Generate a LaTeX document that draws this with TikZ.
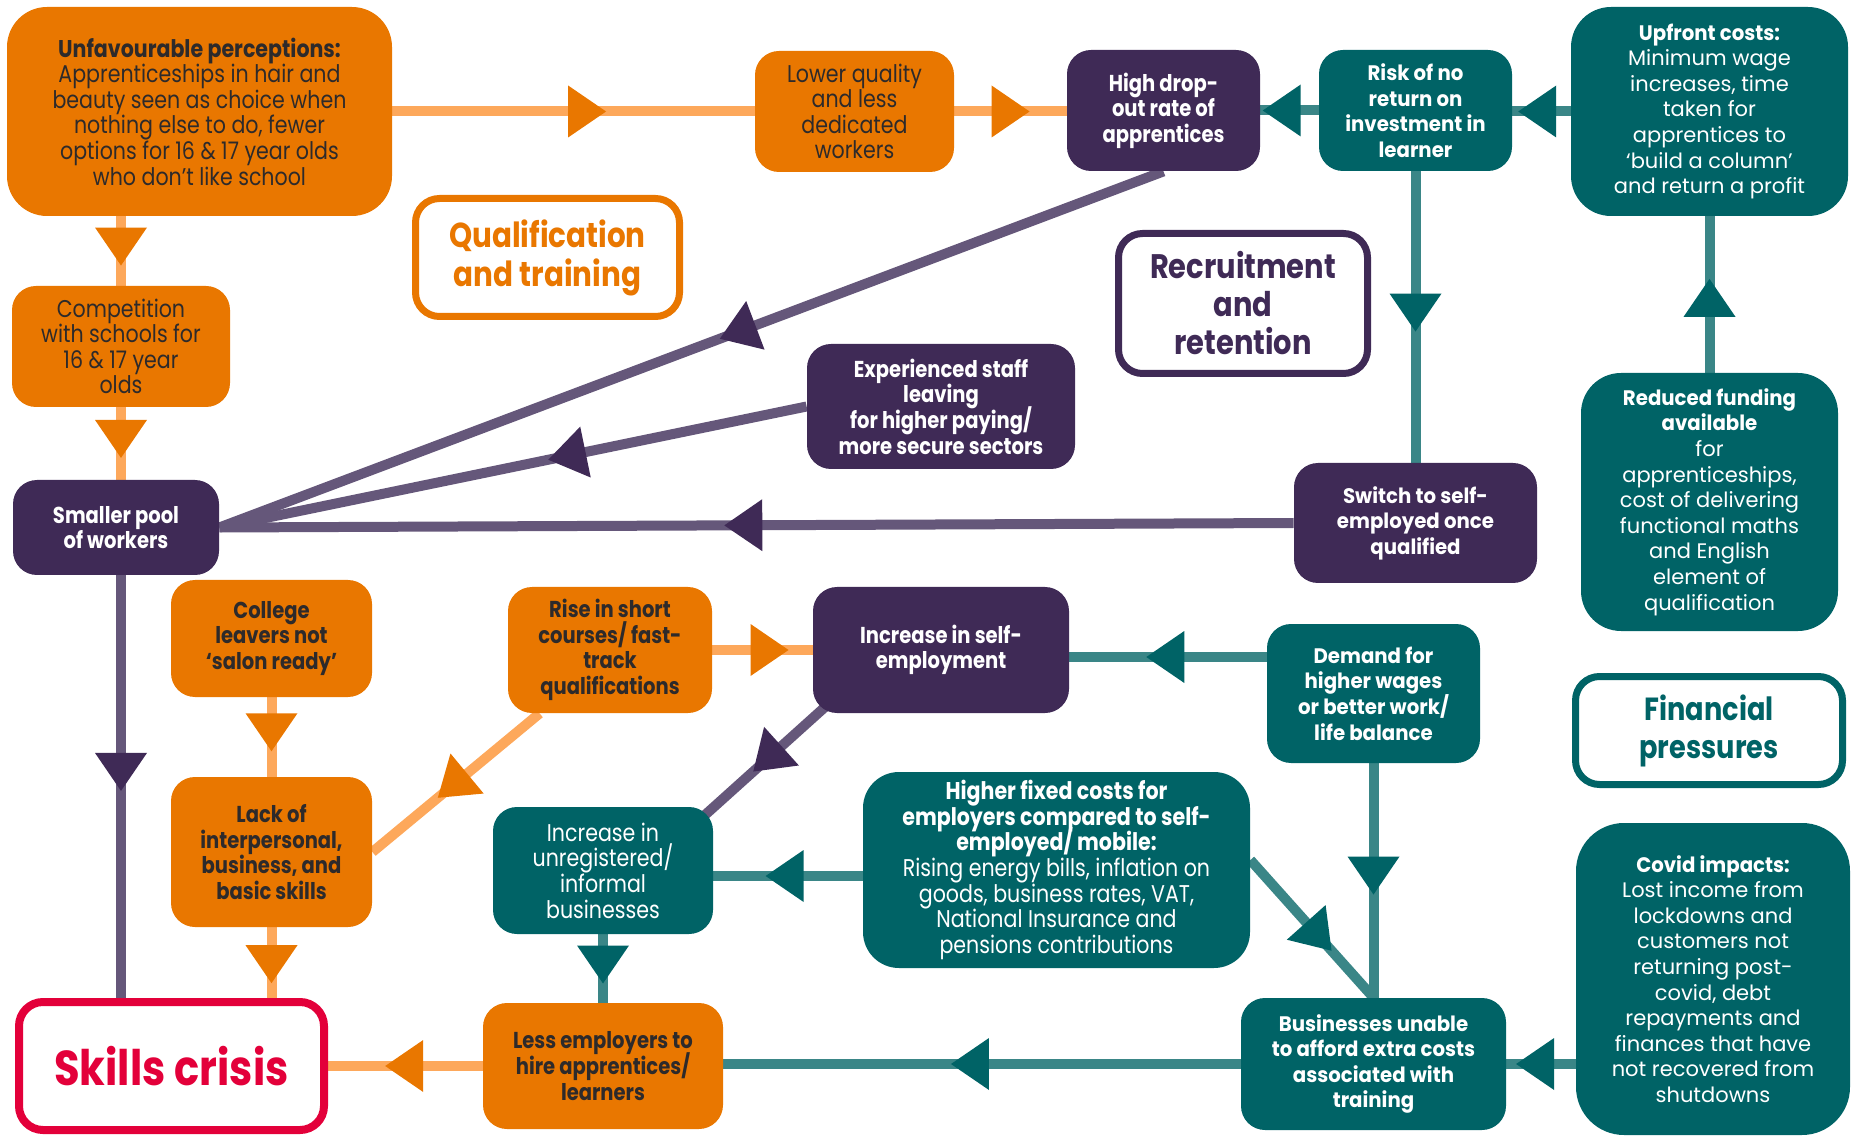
\documentclass[tikz,border=0pt]{standalone}
\usepackage{fontspec}
\setmainfont{Poppins}
\newfontfamily\cond{Poppins}[FakeStretch=0.85]
\newfontfamily\wideb{Poppins}[FakeStretch=0.94]
\newcommand\tightlines{\lineskiplimit=-100pt\relax}
\usetikzlibrary{decorations.markings,calc,backgrounds}
\definecolor{obox}{HTML}{E97700}
\definecolor{oline}{HTML}{FDA85B}
\definecolor{pbox}{HTML}{3F2A56}
\definecolor{pline}{HTML}{65577A}
\definecolor{tbox}{HTML}{006366}
\definecolor{tline}{HTML}{3A8687}
\definecolor{dtext}{HTML}{2D2A2B}
\definecolor{crisis}{HTML}{E3003A}
\tikzset{
  cardbox/.style={rounded corners=12pt, inner sep=0pt, align=center},
  ocard/.style={cardbox, fill=obox, text=dtext},
  pcard/.style={cardbox, fill=pbox, text=white},
  tcard/.style={cardbox, fill=tbox, text=white},
  tagbox/.style={rounded corners=12pt, inner sep=0pt, align=center, fill=white, line width=3.5pt},
  fc/.style={font=\cond\fontsize{12.1}{12.8}\selectfont\tightlines},
  fcb/.style={font=\cond\bfseries\fontsize{11.5}{12.8}\selectfont\tightlines},
  fw/.style={font=\fontsize{10.5}{12.8}\selectfont\tightlines},
  fwb/.style={font=\wideb\bfseries\fontsize{10.5}{12.8}\selectfont\tightlines},
  linkarrow/.style n args={3}{line width=5pt, draw=#1, postaction={decorate, decoration={markings, mark=at position #3 with {\fill[#2] (0pt,0pt) -- (-19pt,13pt) -- (-19pt,-13pt) -- cycle;}}}},
  olink/.style={linkarrow={oline}{obox}{#1}},
  plink/.style={linkarrow={pline}{pbox}{#1}},
  tlink/.style={linkarrow={tline}{tbox}{#1}},
}
\begin{document}
\begin{tikzpicture}[x=0.5pt,y=-0.5pt]
\useasboundingbox (0,0) rectangle (1852,1138);
% orange
\node[ocard, rounded corners=20pt, minimum width=192.5pt, minimum height=104.5pt, fc] (unfav) at (199.5,111.5)
 {{\bfseries Unfavourable perceptions:}\\Apprenticeships in hair and\\beauty seen as choice when\\nothing else to do, fewer\\options for 16 \& 17 year olds\\who don’t like school};
\node[ocard, minimum width=109pt, minimum height=60.5pt, fc] (comp) at (121,346.5)
 {Competition\\with schools for\\16 \& 17 year\\olds};
\node[ocard, minimum width=99.5pt, minimum height=60.5pt, fc] (lower) at (854.5,111.5)
 {Lower quality\\and less\\dedicated\\workers};
\node[ocard, minimum width=100.5pt, minimum height=58.5pt, fcb] (college) at (271.5,638.5)
 {College\\leavers not\\‘salon ready’};
\node[ocard, minimum width=102pt, minimum height=63pt, fcb] (rise) at (610,650)
 {Rise in short\\courses/ fast-\\track\\qualifications};
\node[ocard, minimum width=100.5pt, minimum height=75pt, fcb] (lack) at (271.5,852)
 {Lack of\\interpersonal,\\business, and\\basic skills};
\node[ocard, minimum width=120pt, minimum height=63pt, fcb] (less) at (603,1066)
 {Less employers to\\hire apprentices/\\learners};
% purple
\node[pcard, minimum width=96.5pt, minimum height=60.5pt, fcb] (high) at (1163.5,110.5)
 {High drop-\\out rate of\\apprentices};
\node[pcard, minimum width=134pt, minimum height=62.5pt, fcb] (exper) at (941,406.5)
 {Experienced staff\\leaving\\for higher paying/\\more secure sectors};
\node[pcard, minimum width=103pt, minimum height=47.5pt, fcb] (smaller) at (116,527.5)
 {Smaller pool\\of workers};
\node[pcard, minimum width=121.5pt, minimum height=60pt, fwb] (switch) at (1415.5,523)
 {Switch to self-\\employed once\\qualified};
\node[pcard, minimum width=128pt, minimum height=63pt, fcb] (incrself) at (941,650)
 {Increase in self-\\employment};
% teal
\node[tcard, minimum width=96.5pt, minimum height=60.5pt, fwb] (risk) at (1415.5,110.5)
 {Risk of no\\return on\\investment in\\learner};
\node[tcard, rounded corners=20pt, minimum width=138.5pt, minimum height=104.5pt, fw] (upfront) at (1709.5,111.5)
 {{\wideb\bfseries Upfront costs:}\\Minimum wage\\increases, time\\taken for\\apprentices to\\‘build a column’\\and return a profit};
\node[tcard, rounded corners=20pt, minimum width=128.5pt, minimum height=129pt, fw] (reduced) at (1709.5,502)
 {{\wideb\bfseries Reduced funding}\\{\wideb\bfseries available}\\for\\apprenticeships,\\cost of delivering\\functional maths\\and English\\element of\\qualification};
\node[tcard, minimum width=106.5pt, minimum height=69.5pt, fwb] (demand) at (1373.5,693.5)
 {Demand for\\higher wages\\or better work/\\life balance};
\node[tcard, minimum width=110pt, minimum height=63.5pt, fc] (incrunreg) at (603,870.5)
 {Increase in\\unregistered/\\informal\\businesses};
\node[tcard, rounded corners=18pt, minimum width=193.5pt, minimum height=98pt, fc] (higher) at (1056.5,870)
 {{\bfseries Higher fixed costs for}\\{\bfseries employers compared to self-}\\{\bfseries employed/ mobile:}\\Rising energy bills, inflation on\\goods, business rates, VAT,\\National Insurance and\\pensions contributions};
\node[tcard, rounded corners=24pt, minimum width=137pt, minimum height=156pt, fw] (covid) at (1713,979)
 {{\wideb\bfseries Covid impacts:}\\Lost income from\\lockdowns and\\customers not\\returning post-\\covid, debt\\repayments and\\finances that have\\not recovered from\\shutdowns};
\node[tcard, minimum width=132.5pt, minimum height=66pt, fwb] (business) at (1373.5,1064)
 {Businesses unable\\to afford extra costs\\associated with\\training};
% headings
\node[tagbox, draw=obox, text=obox, minimum width=132pt, minimum height=59pt, font=\cond\bfseries\fontsize{17.3}{19.5}\selectfont] (qual) at (547.5,257.5)
 {Qualification\\and training};
\node[tagbox, draw=pbox, text=pbox, minimum width=124.5pt, minimum height=70pt, font=\cond\bfseries\fontsize{17}{19}\selectfont] (recruit) at (1243,303.5)
 {Recruitment\\and\\retention};
\node[tagbox, draw=tbox, text=tbox, minimum width=133.5pt, minimum height=54pt, font=\cond\bfseries\fontsize{16}{19}\selectfont] (financial) at (1709,730.5)
 {Financial\\pressures};
\node[tagbox, draw=crisis, text=crisis, line width=4pt, minimum width=152.5pt, minimum height=64pt, font=\cond\bfseries\fontsize{24.5}{26}\selectfont] (skills) at (171.5,1066)
 {Skills crisis};
% connectors
\begin{pgfonlayer}{background}
\draw[olink=0.59] (unfav.east) -- (lower.west);
\draw[olink=0.67] (lower.east) -- (lower.east -| high.west);
\draw[tlink=0.96] (risk.west) -- (high.east);
\draw[tlink=0.9] (upfront.west) -- (upfront.west -| risk.east);
\draw[tlink=0.55] (risk.south) -- (switch.north);
\draw[tlink=0.6] (reduced.north) -- (upfront.south);
\draw[plink=0.47] (high.south) -- (smaller.east);
\draw[plink=0.44] (exper.west) -- (smaller.east);
\draw[plink=0.53] (switch.west) -- (smaller.east);
\coordinate (sp) at ([xshift=2.5pt]smaller.south);
\draw[plink=0.51] (sp) -- (sp |- skills.north);
\draw[olink=0.71] (comp.north |- unfav.south) -- (comp.north);
\draw[olink=0.70] (comp.south) -- (comp.south |- smaller.north);
\draw[olink=0.68] (college.south) -- (lack.north);
\draw[olink=0.79] (lack.south) -- (lack.south |- skills.north);
\coordinate (riseout) at ($(rise.south west)+(32,0)$);
\draw[olink=0.61] (riseout) -- (lack.east);
\draw[olink=0.76] (rise.east) -- (incrself.west);
\coordinate (ise) at ($(incrself.east)+(0,7)$);
\draw[tlink=0.61] (ise -| demand.west) -- (ise);
\coordinate (isout) at ($(incrself.south west)+(12,-6)$);
\coordinate (iuin) at ($(incrunreg.north east)+(-8,8)$);
\draw[plink=0.6] (isout) -- (iuin);
\coordinate (iue) at ($(incrunreg.east)+(0,5.5)$);
\draw[tlink=0.65] (iue -| higher.west) -- (iue);
\coordinate (hfout) at ($(higher.east)+(0,-10)$);
\draw[tlink=0.66] (hfout) -- (business.north);
\draw[tlink=0.56] (demand.south) -- (business.north);
\draw[tlink=0.86] (business.east -| covid.west) -- (business.east);
\draw[tlink=0.56] (business.west) -- (business.west -| less.east);
\draw[tlink=0.72] (incrunreg.south) -- (less.north);
\draw[olink=0.63] (less.west) -- (less.west -| skills.east);
\end{pgfonlayer}
\end{tikzpicture}
\end{document}
